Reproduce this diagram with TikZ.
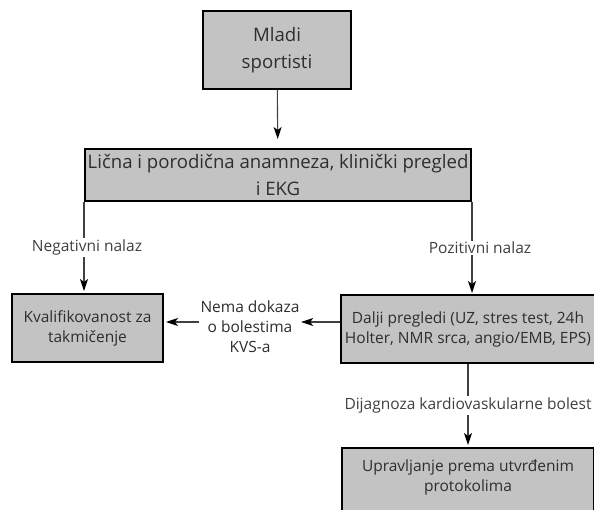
\documentclass[tikz,border=0pt]{standalone}
\usepackage{fontspec}
\setmainfont{Open Sans}
\usetikzlibrary{positioning, arrows.meta, calc}
\definecolor{boxgray}{HTML}{C3C3C3}
\definecolor{txtgray}{HTML}{2E2E2E}
\definecolor{linegray}{HTML}{404040}

\begin{document}
\begin{tikzpicture}[x=1pt, y=-1pt, text=txtgray,
    font=\fontsize{15.5}{20}\selectfont,
    box/.style={draw=black, line width=2pt, fill=boxgray, align=center, inner sep=1pt},
    bigbox/.style={box, font=\fontsize{18.6}{26.5}\selectfont},
    conn/.style={linegray, line width=1.1pt, -{Stealth[length=12pt, width=8pt, inset=3pt, color=black]}},
    tag/.style={fill=white, inner sep=1.5pt, align=center}]
    \useasboundingbox (0,0) rectangle (594,510);
    \clip (0,0) rectangle (594,510);
    % kutije
    \node[bigbox, minimum width=148, minimum height=78] (mladi) at (277,50) {Mladi\\sportisti};
    \node[bigbox, minimum width=386, minimum height=52, inner xsep=0pt] (anamneza) at (278,175)
      {Lična i porodična anamneza, klinički pregled\\i EKG};
    \node[box, minimum width=151, minimum height=68] (kvalif) at (87.5,328) {Kvalifikovanost za\\takmičenje};
    \node[box, minimum width=254, minimum height=68] (dalji) at (468,329)
      {Dalji pregledi (UZ, stres test, 24h\\Holter, NMR srca, angio/EMB, EPS)};
    \node[box, minimum width=252, anchor=north, inner ysep=12pt, text depth=40pt] (upravljanje) at (468,447)
      {Upravljanje prema utvrđenim\\protokolima};
    \node[tag] (nema) at (250,327) {Nema dokaza\\o bolestima\\KVS-a};
    \coordinate (nemarow) at (0,322);
    % veze
    \draw[conn, shorten >=9pt] (mladi) -- (anamneza);
    \draw[conn, shorten >=2pt] (anamneza.south west) -- (anamneza.south west |- kvalif.north)
      node[tag, midway, xshift=3pt] (negativni) {Negativni nalaz};
    \draw[conn, shorten >=1pt] (anamneza.south east) -- (anamneza.south east |- dalji.north)
      node[tag, midway, xshift=8pt] (pozitivni) {Pozitivni nalaz};
    \draw[conn] (dalji.west |- nemarow) -- (nema.east |- nemarow);
    \draw[conn, shorten >=2pt] (nema.west |- nemarow) -- (kvalif.east |- nemarow);
    \draw[conn, shorten >=2pt] (dalji.south) -- (upravljanje.north)
      node[tag, midway] (dijagnoza) {Dijagnoza kardiovaskularne bolest};
\end{tikzpicture}
\end{document}
